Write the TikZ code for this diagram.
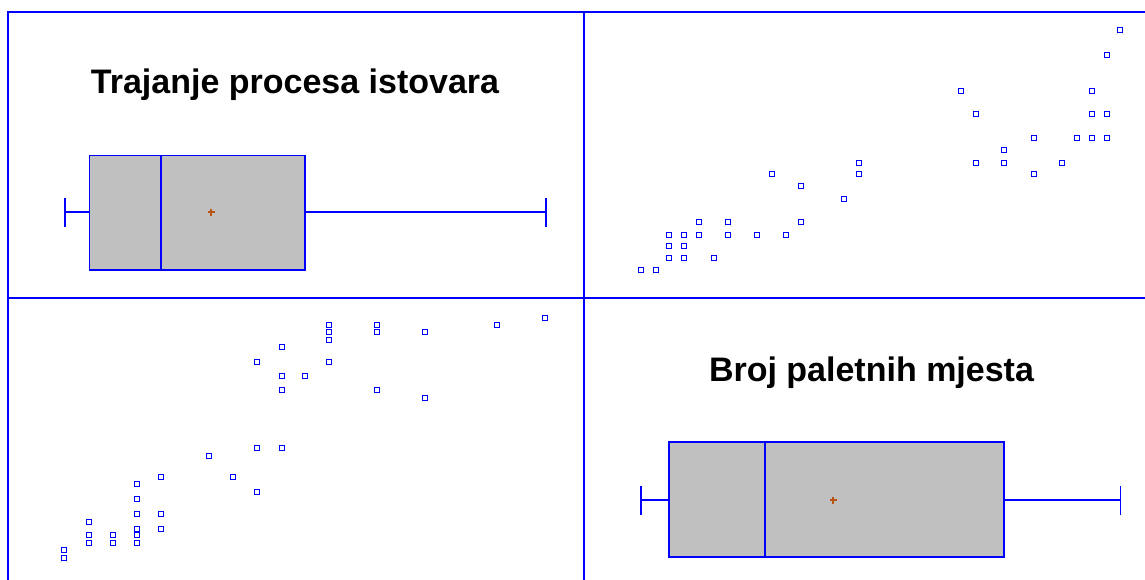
\documentclass[tikz,border=0pt]{standalone}
\usepackage{fontspec}
\setmainfont{Liberation Sans}
\definecolor{boxgray}{RGB}{192,192,192}
\definecolor{meanbrown}{RGB}{184,84,20}
\begin{document}
\begin{tikzpicture}[x=1pt,y=-1pt,
    frame/.style={blue,line width=1.2pt},
    mk/.style={blue,line width=1.1pt},
    boxfill/.style={draw=blue,fill=boxgray,line width=1.3pt},
    whisk/.style={blue,line width=1.3pt},
    meanmk/.style={meanbrown,line width=1.1pt},
    title/.style={font=\bfseries\fontsize{34}{40}\selectfont,anchor=base,inner sep=0pt}]
    \useasboundingbox (0,0) rectangle (1145,580);

    % panel frame
    \draw[frame] (8,580) -- (8,12) -- (1145,12);
    \draw[frame] (584,12) -- (584,580);
    \draw[frame] (8,298) -- (1145,298);

    % titles
    \node[title] (t1) at (295,94) {Trajanje procesa istovara};
    \node[title] (t2) at (871.5,381) {Broj paletnih mjesta};

    % box plot, top left
    \draw[boxfill] (89.5,155.5) rectangle (305,270);
    \draw[whisk] (161,155.5) -- (161,270);
    \draw[whisk] (65,212) -- (89.5,212);
    \draw[whisk] (305,212) -- (546,212);
    \draw[whisk] (65,198.5) -- (65,227);
    \draw[whisk] (546,198.5) -- (546,227);
    \draw[meanmk] (207.5,212) -- (214.5,212) (211,208.5) -- (211,215.5);

    % box plot, bottom right
    \draw[boxfill] (669,442) rectangle (1004,557);
    \draw[whisk] (765,442) -- (765,557);
    \draw[whisk] (641,500) -- (669,500);
    \draw[whisk] (1004,500) -- (1120.5,500);
    \draw[whisk] (641,486) -- (641,514.5);
    \draw[whisk] (1120.5,486) -- (1120.5,514.5);
    \draw[meanmk] (829.5,500) -- (836.5,500) (833,496.5) -- (833,503.5);

    % scatter, top right
    \foreach \x/\y in {641/270,656/270,669/258,684/258,714/258,669/246,684/246,
        669/235,684/235,699/235,728/235,757/235,786/235,699/222,728/222,801/222,
        844/199,801/186,772/174,859/174,859/163,1034/174,976/163,1004/163,1062/163,
        1004/150,1034/138,1077/138,1092/138,1107/138,976/114,1092/114,1107/114,
        961/91,1092/91,1107/55,1120/30}
        \draw[mk] (\x-2.7,\y-2.7) rectangle (\x+2.7,\y+2.7);

    % scatter, bottom left
    \foreach \x/\y in {64/550,64/558,89/522,89/535,89/543,113/535,113/543,
        137/484,137/499,137/514,137/529,137/535,137/543,161/477,161/514,161/529,
        209/456,233/477,257/448,257/492,282/448,257/362,282/347,282/376,282/390,
        305/376,329/325,329/332,329/340,329/362,377/325,377/332,377/390,
        425/332,425/398,497/325,545/318}
        \draw[mk] (\x-2.7,\y-2.7) rectangle (\x+2.7,\y+2.7);
\end{tikzpicture}
\end{document}
